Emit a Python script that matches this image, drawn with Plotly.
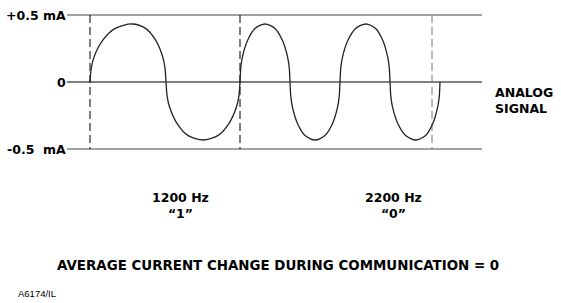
import plotly.graph_objects as go

# --- data (time axis in drawing units, current in mA) ---
level_values = [0.5, 0.0, -0.5]
level_labels = ["+0.5 mA", "0", "-0.5  mA"]
level_colors = ["#444444", "#000000", "#444444"]
line_start, line_end = 67, 482

bit_boundaries = [90, 240, 432]
boundary_colors = ["#000000", "#000000", "#777777"]

wave_x = [
    90, 91.3, 94.2, 102.6, 115.2, 132, 145.6, 155.8, 162.6, 165.0, 166,
    167.1, 169.7, 177.1, 188.2, 203, 217.8, 228.9, 236.3, 238.9, 240,
    240.75, 242.5, 247.5, 255, 265, 275, 282.5, 287.5, 289.25, 290,
    290.75, 292.5, 297.5, 305, 315, 325, 332.5, 337.5, 339.25, 340,
    340.8, 342.6, 347.8, 355.6, 366, 375.6, 382.8, 387.6, 389.3, 390,
    390.8, 392.6, 397.8, 405.6, 416, 425.6, 432.8, 437.6, 439.3, 440,
]
wave_y = [
    0, 0.105, 0.19, 0.31, 0.40, 0.433, 0.40, 0.31, 0.19, 0.105, 0,
    -0.105, -0.19, -0.31, -0.40, -0.433, -0.40, -0.31, -0.19, -0.105, 0,
    0.105, 0.19, 0.31, 0.40, 0.433, 0.40, 0.31, 0.19, 0.105, 0,
    -0.105, -0.19, -0.31, -0.40, -0.433, -0.40, -0.31, -0.19, -0.105, 0,
    0.105, 0.19, 0.31, 0.40, 0.433, 0.40, 0.31, 0.19, 0.105, 0,
    -0.105, -0.19, -0.31, -0.40, -0.433, -0.40, -0.31, -0.19, -0.105, 0,
]

freq_labels = ["1200 Hz<br>“1”", "2200 Hz<br>“0”"]
freq_centers = [180, 393]

W, H = 561, 303
PX_PER_MA = 134
ZERO_PX = 82
y_top = ZERO_PX / PX_PER_MA
y_bot = (ZERO_PX - H) / PX_PER_MA

BOLD = "DejaVu Sans"

fig = go.Figure()

for v, c in zip(level_values, level_colors):
    fig.add_trace(go.Scatter(x=[line_start, line_end], y=[v, v], mode="lines",
                             line=dict(color=c, width=1), hoverinfo="skip"))

for xb, c in zip(bit_boundaries, boundary_colors):
    fig.add_trace(go.Scatter(x=[xb, xb], y=[level_values[0], level_values[2]], mode="lines",
                             line=dict(color=c, width=1, dash="8px,4px"), hoverinfo="skip"))

fig.add_trace(go.Scatter(x=wave_x, y=wave_y, mode="lines",
                         line=dict(color="#222222", width=1.3, shape="spline", smoothing=0.8),
                         hoverinfo="skip"))

anns = []
for v, t in zip(level_values, level_labels):
    anns.append(dict(x=line_start + 1, y=v, xref="x", yref="y", text="<b>" + t + "</b>",
                     xanchor="right", yanchor="middle", showarrow=False,
                     font=dict(family=BOLD, size=12.5, color="black")))
anns.append(dict(x=493, y=0, xref="x", yref="y", text="<b>ANALOG<br>SIGNAL</b>",
                 xanchor="left", yanchor="top", yshift=-1, align="left", showarrow=False,
                 font=dict(family=BOLD, size=12.5, color="black")))
for xc, t in zip(freq_centers, freq_labels):
    anns.append(dict(x=xc, y=(ZERO_PX - 205) / PX_PER_MA, xref="x", yref="y",
                     text="<b>" + t.replace("<br>", "</b><br><b>") + "</b>",
                     xanchor="center", yanchor="middle", align="center", showarrow=False,
                     font=dict(family=BOLD, size=12.5, color="black")))
anns.append(dict(x=277.5, y=(ZERO_PX - 265) / PX_PER_MA, xref="x", yref="y",
                 text="<b>AVERAGE CURRENT CHANGE DURING COMMUNICATION = 0</b>",
                 xanchor="center", yanchor="middle", showarrow=False,
                 font=dict(family=BOLD, size=13.4, color="black")))
anns.append(dict(x=16, y=(ZERO_PX - 293) / PX_PER_MA, xref="x", yref="y",
                 text="A6174/IL", xanchor="left", yanchor="middle", showarrow=False,
                 font=dict(family="Liberation Sans", size=9.5, color="black")))

fig.update_layout(
    width=W, height=H, autosize=False,
    margin=dict(l=0, r=0, t=0, b=0),
    paper_bgcolor="white", plot_bgcolor="white",
    showlegend=False,
    xaxis=dict(range=[0, W], visible=False, fixedrange=True),
    yaxis=dict(range=[y_bot, y_top], visible=False, fixedrange=True),
    annotations=anns,
)

fig.write_html("out.html", config={"displayModeBar": False},
               post_script="document.body.style.margin='0';document.body.style.padding='0';"
                           "document.body.style.overflow='hidden';")
